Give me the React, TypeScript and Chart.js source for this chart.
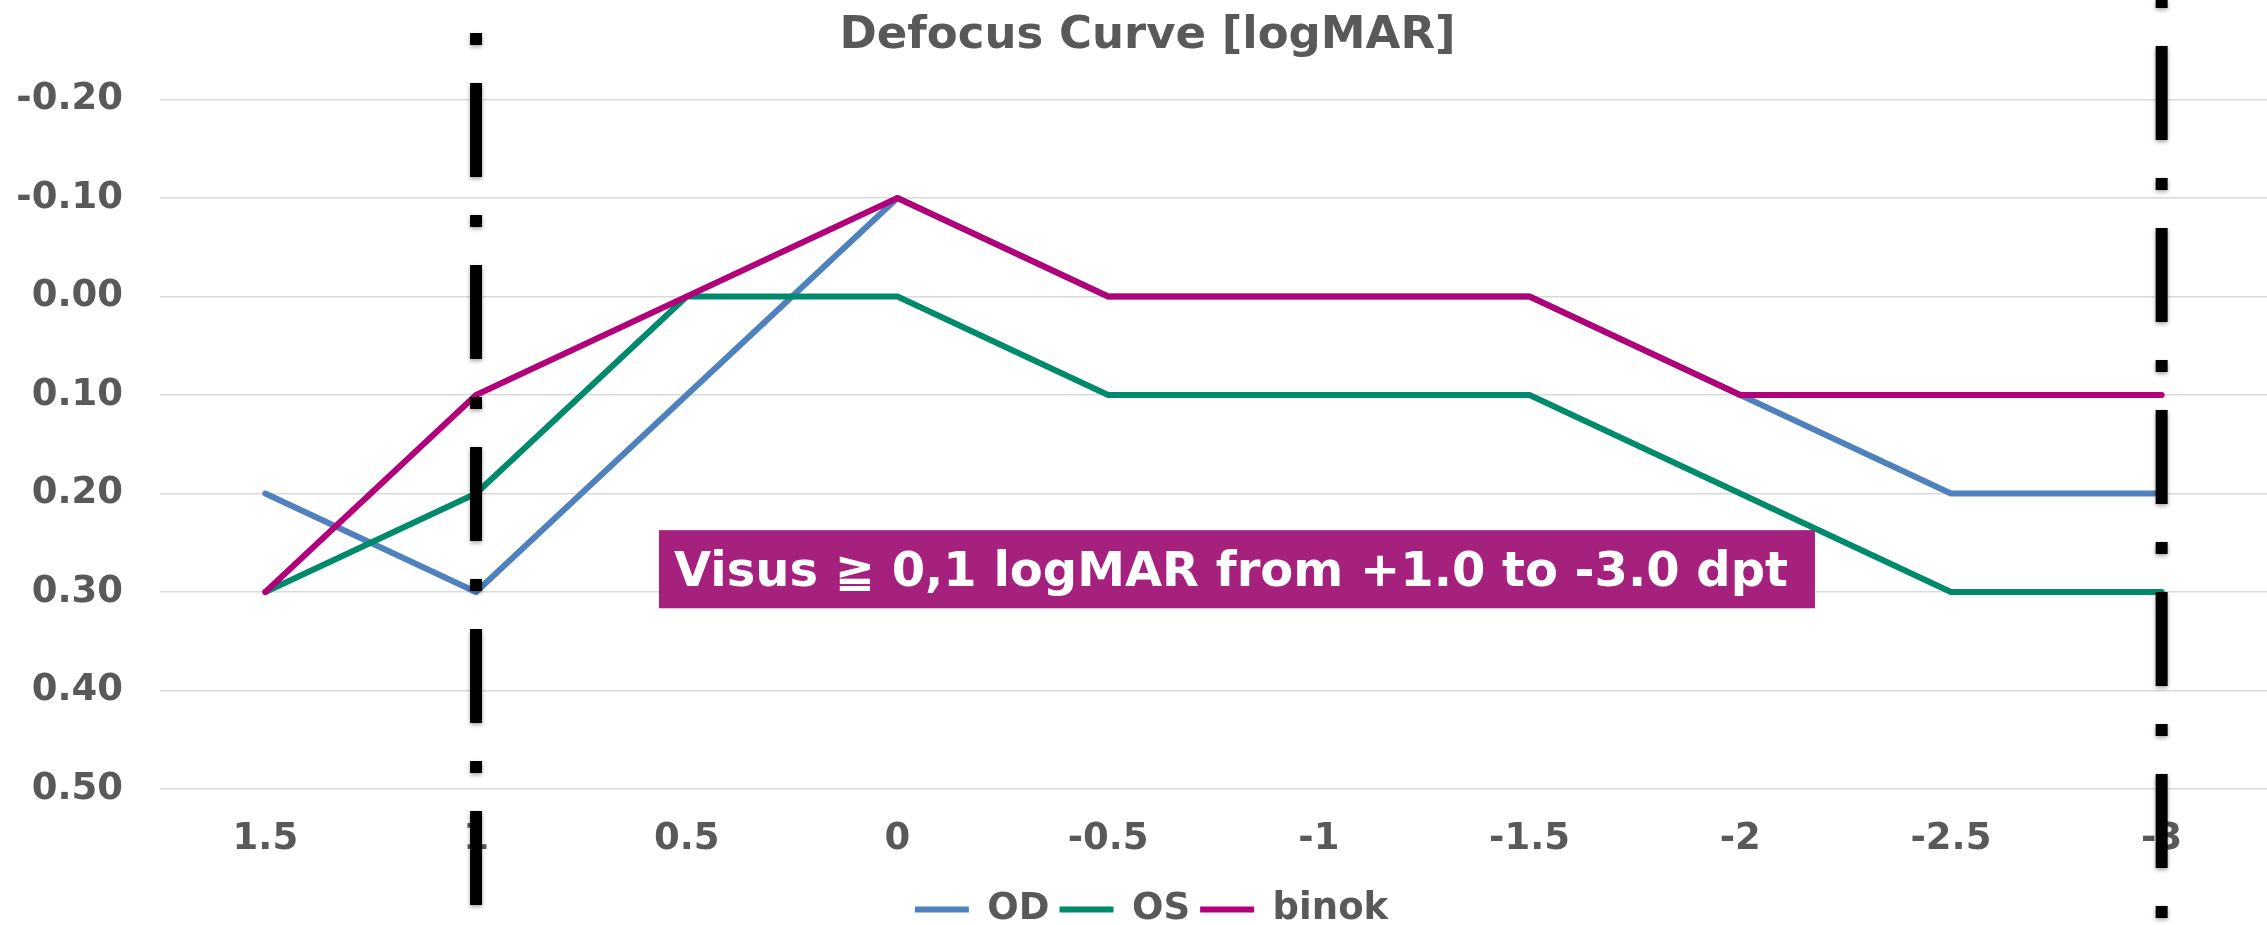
import React, { useEffect, useRef } from 'react';
import { Chart, registerables } from 'chart.js';

Chart.register(...registerables);

const categories = ['1.5', '1', '0.5', '0', '-0.5', '-1', '-1.5', '-2', '-2.5', '-3'];
const odValues = [0.2, 0.3, 0.1, -0.1, 0, 0, 0, 0.1, 0.2, 0.2];
const osValues = [0.3, 0.2, 0, 0, 0.1, 0.1, 0.1, 0.2, 0.3, 0.3];
const binokValues = [0.3, 0.1, 0, -0.1, 0, 0, 0, 0.1, 0.1, 0.1];
const seriesLabels = ['OD', 'OS', 'binok'];
const seriesColors = ['#4F81BD', '#008A6C', '#B2007B'];

const yMin = -0.2;
const yMax = 0.5;
const yStep = 0.1;

const titleText = 'Defocus Curve [logMAR]';
const markerCategories = ['1', '-3'];
const markerDashOffsets = [99, 136];
const annotationText = 'Visus \u2267 0,1 logMAR from +1.0 to -3.0 dpt';
const annotationLeftIndex = 1.868;
const annotationTopValue = 0.2372;
const annotationBottomValue = 0.3165;

const FONT = '"DejaVu Sans", "Verdana", sans-serif';
const TEXT = '#595959';

const overlayPlugin = {
  id: 'overlay',
  afterLayout(chart: any) {
    if (chart.legend) {
      chart.legend.left += 18;
      chart.legend.right += 18;
    }
    if (chart.titleBlock) {
      chart.titleBlock.left += 14;
      chart.titleBlock.right += 14;
    }
  },
  afterDatasetsDraw(chart: any) {
    const { ctx } = chart;
    const x = chart.scales.x;
    const y = chart.scales.y;
    ctx.save();
    const left = x.getPixelForValue(annotationLeftIndex);
    const top = y.getPixelForValue(annotationTopValue);
    const bottom = y.getPixelForValue(annotationBottomValue);
    ctx.font = `bold 48px ${FONT}`;
    const tw = ctx.measureText(annotationText).width;
    ctx.fillStyle = '#A6207E';
    ctx.fillRect(left, top, tw + 42, bottom - top);
    ctx.fillStyle = '#FFFFFF';
    ctx.textBaseline = 'alphabetic';
    ctx.textAlign = 'left';
    ctx.fillText(annotationText, left + 15, top + 56);
    ctx.restore();

    markerCategories.forEach((c, i) => {
      const px = x.getPixelForValue(categories.indexOf(c));
      ctx.save();
      ctx.strokeStyle = '#000000';
      ctx.lineWidth = 12;
      ctx.lineCap = 'butt';
      ctx.setLineDash([94, 38, 12, 38]);
      ctx.lineDashOffset = markerDashOffsets[i];
      ctx.shadowColor = 'rgba(0,0,0,0.35)';
      ctx.shadowBlur = 4;
      ctx.shadowOffsetY = 2;
      ctx.beginPath();
      ctx.moveTo(px, 0);
      ctx.lineTo(px, chart.height);
      ctx.stroke();
      ctx.restore();
    });
  },
};

export default function App() {
  const canvasRef = useRef<HTMLCanvasElement | null>(null);

  useEffect(() => {
    if (!canvasRef.current) return;
    Chart.defaults.font.family = FONT;
    const values = [odValues, osValues, binokValues];
    const chart = new Chart(canvasRef.current, {
      type: 'line',
      data: {
        labels: categories,
        datasets: values.map((d, i) => ({
          label: seriesLabels[i],
          data: d,
          borderColor: seriesColors[i],
          backgroundColor: seriesColors[i],
          borderWidth: 6,
          pointRadius: 0,
          pointHoverRadius: 0,
          tension: 0,
          order: 3 - i,
          borderCapStyle: 'round',
          borderJoinStyle: 'round',
        })),
      },
      options: {
        responsive: false,
        animation: false,
        devicePixelRatio: 1,
        layout: { padding: { left: 0, right: 0, top: 0, bottom: 0 } },
        plugins: {
          title: {
            display: true,
            text: titleText,
            color: TEXT,
            font: { family: FONT, size: 45, weight: 'bold' },
            padding: { top: 9, bottom: 36.5 },
          },
          legend: {
            position: 'bottom',
            labels: {
              usePointStyle: true,
              pointStyle: 'line',
              pointStyleWidth: 54,
              color: TEXT,
              font: { family: FONT, size: 37, weight: 'bold' },
              padding: 10,
              sort: (a: any, b: any) => a.datasetIndex - b.datasetIndex,
            },
          },
          tooltip: { enabled: false },
        },
        scales: {
          x: {
            offset: true,
            grid: { display: false, drawTicks: false },
            border: { display: false },
            ticks: {
              color: TEXT,
              font: { family: FONT, size: 37, weight: 'bold' },
              padding: 28,
              maxRotation: 0,
              autoSkip: false,
            },
            afterFit: (s: any) => {
              s.height = 92;
            },
          },
          y: {
            reverse: true,
            min: yMin,
            max: yMax,
            grid: { color: '#D9D9D9', lineWidth: 1.5, drawTicks: false },
            border: { display: false },
            ticks: {
              stepSize: yStep,
              color: TEXT,
              font: { family: FONT, size: 37, weight: 'bold' },
              padding: 37,
              callback: (v: any) => {
                const n = Math.abs(Number(v)) < 1e-9 ? 0 : Number(v);
                return n.toFixed(2);
              },
            },
            afterFit: (s: any) => {
              s.width = 160;
            },
          },
        },
      } as any,
      plugins: [overlayPlugin],
    });
    return () => chart.destroy();
  }, []);

  return (
    <div
      style={{
        position: 'fixed',
        left: 0,
        top: 0,
        width: 2267,
        height: 925,
        overflow: 'hidden',
        background: '#FFFFFF',
      }}
    >
      <canvas ref={canvasRef} width={2267} height={938} style={{ display: 'block', width: 2267, height: 938 }} />
    </div>
  );
}
